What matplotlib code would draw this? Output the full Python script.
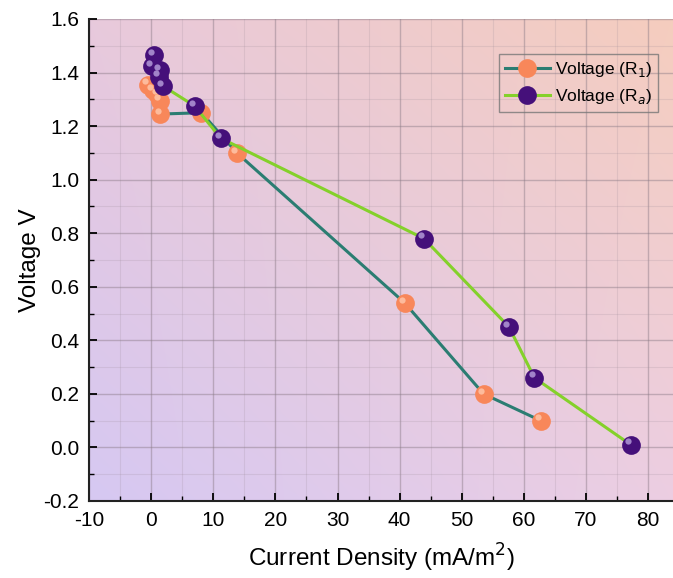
import numpy as np
import matplotlib
matplotlib.use("Agg")
import matplotlib.pyplot as plt
import matplotlib.transforms as mtransforms
from matplotlib.ticker import MultipleLocator
from matplotlib.lines import Line2D

plt.rcParams['font.family'] = ['Liberation Sans', 'DejaVu Sans']
plt.rcParams['axes.unicode_minus'] = False

# Data
r1_x = [-0.5, 0.3, 1.0, 1.4, 1.5, 8.1, 13.8, 40.8, 53.5, 62.7]
r1_y = [1.355, 1.335, 1.32, 1.295, 1.245, 1.25, 1.10, 0.54, 0.20, 0.10]
ra_x = [0.4, 0.1, 1.4, 1.3, 1.9, 7.0, 11.2, 43.9, 57.6, 61.7, 77.2]
ra_y = [1.465, 1.425, 1.41, 1.385, 1.35, 1.275, 1.155, 0.78, 0.45, 0.26, 0.01]
labels = ['Voltage (R$_1$)', 'Voltage (R$_a$)']

fig = plt.figure(figsize=(6.73, 5.78), dpi=100)
ax = fig.add_axes([89/673, 1-501/578, 1-89/673, (501-19)/578])

# Background gradient (bottom-left lavender -> top-right peach)
bl = np.array([214, 200, 242]) / 255
tr = np.array([245, 205, 190]) / 255
tl = np.array([232, 201, 220]) / 255
br = np.array([236, 206, 226]) / 255
n = 200
u = np.linspace(0, 1, n)
U, V = np.meshgrid(u, u)
img = ((1-U)*(1-V))[..., None]*bl + (U*(1-V))[..., None]*br + ((1-U)*V)[..., None]*tl + (U*V)[..., None]*tr
ax.imshow(img, extent=[0, 1, 0, 1], transform=ax.transAxes, origin='lower',
          aspect='auto', zorder=0, interpolation='bilinear')

ax.set_xlim(-10, 84)
ax.set_ylim(-0.2, 1.6)
ax.xaxis.set_major_locator(MultipleLocator(10))
ax.xaxis.set_minor_locator(MultipleLocator(5))
ax.yaxis.set_major_locator(MultipleLocator(0.2))
ax.yaxis.set_minor_locator(MultipleLocator(0.1))
ax.grid(which='major', color='#8a7a86', alpha=0.45, linewidth=1.0, zorder=1)
ax.grid(which='minor', color='#9a8a96', alpha=0.2, linewidth=0.8, zorder=1)
ax.set_axisbelow(True)
ax.yaxis.set_major_formatter(matplotlib.ticker.FormatStrFormatter('%.1f'))

for s in ['top', 'right']:
    ax.spines[s].set_visible(False)
for s in ['left', 'bottom']:
    ax.spines[s].set_linewidth(1.5)
    ax.spines[s].set_color('#222222')
ax.tick_params(which='major', direction='in', length=6, width=1.3, labelsize=15, pad=7)
ax.tick_params(which='minor', direction='in', length=3.5, width=1.0)

teal = '#2b7d72'
green = '#84d12a'
orange = '#f8875a'
purple = '#45107a'

ms = 13.5
ax.plot(r1_x, r1_y, color=teal, lw=2.2, zorder=3)
ax.plot(r1_x, r1_y, 'o', ms=ms, color=orange, mec='none', zorder=4)
hl1 = mtransforms.offset_copy(ax.transData, fig=fig, x=-2.0, y=2.4, units='points')
ax.plot(r1_x, r1_y, 'o', ms=4.5, color='#ffc9ad', mec='none', zorder=4.5, transform=hl1, alpha=0.8)

ax.plot(ra_x, ra_y, color=green, lw=2.2, zorder=5)
ax.plot(ra_x, ra_y, 'o', ms=ms, color=purple, mec='none', zorder=6)
hl2 = mtransforms.offset_copy(ax.transData, fig=fig, x=-2.0, y=2.4, units='points')
ax.plot(ra_x, ra_y, 'o', ms=4.5, color='#b9a2de', mec='none', zorder=6.5, transform=hl2, alpha=0.8)

ax.set_xlabel('Current Density (mA/m$^2$)', fontsize=17.5, labelpad=9)
ax.set_ylabel('Voltage V', fontsize=17.5)
ax.yaxis.set_label_coords(-0.082, 0.5)

handles = [Line2D([], [], color=teal, lw=2.2, marker='o', ms=ms, mfc=orange, mec='none'),
           Line2D([], [], color=green, lw=2.2, marker='o', ms=ms, mfc=purple, mec='none')]
leg = ax.legend(handles, labels, loc='upper right', bbox_to_anchor=(0.99, 0.945),
                fontsize=12.5, frameon=True, fancybox=False, handlelength=2.6,
                handletextpad=0.3, borderpad=0.35, labelspacing=0.45)
leg.get_frame().set_facecolor('none')
leg.get_frame().set_edgecolor('#777777')
leg.get_frame().set_linewidth(1.0)

fig.savefig('out.png', dpi=100)
